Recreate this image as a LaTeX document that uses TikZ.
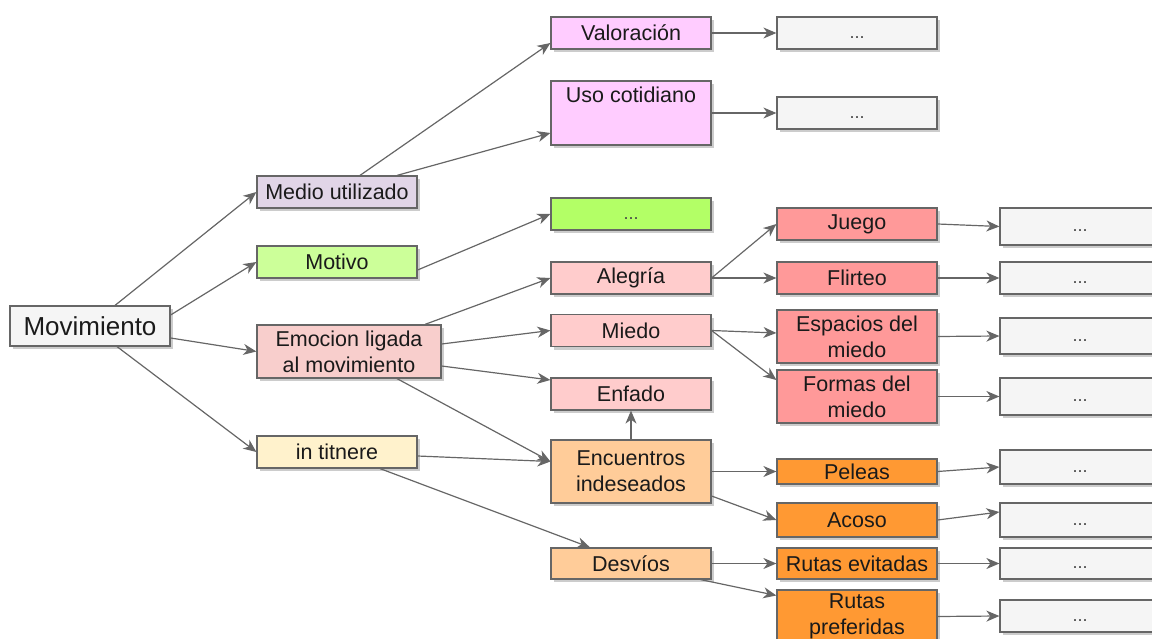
\documentclass[tikz,border=0pt]{standalone}
\usepackage{fontspec}
\setmainfont{Liberation Sans}
\usetikzlibrary{arrows.meta,shadows}
\definecolor{edgec}{HTML}{666666}
\definecolor{bordc}{HTML}{666666}
\definecolor{cgray}{HTML}{F5F5F5}
\definecolor{clilac}{HTML}{E1D5E7}
\definecolor{cgreen}{HTML}{CCFF99}
\definecolor{cgreenb}{HTML}{B3FF66}
\definecolor{cpink}{HTML}{F8CECC}
\definecolor{cyellow}{HTML}{FFF2CC}
\definecolor{cmagenta}{HTML}{FFCCFF}
\definecolor{crose}{HTML}{FFCCCC}
\definecolor{cpeach}{HTML}{FFCC99}
\definecolor{cred}{HTML}{FF9999}
\definecolor{corange}{HTML}{FF9933}
\definecolor{ctext}{HTML}{1A1A1A}
\newcommand{\dotsbox}{\vphantom{Ag}\textcolor{ctext!80}{\fontsize{18}{22}\selectfont...}}
\tikzset{
  box/.style={draw=bordc, line width=1.2pt, rectangle, align=center, inner sep=1pt,
    text=ctext, font=\fontsize{21.5}{26}\selectfont,
    minimum width=160pt, minimum height=32pt,
    drop shadow={shadow xshift=3pt, shadow yshift=-3pt, fill=black, opacity=0.2}},
  arr/.style={draw=edgec, line width=1.2pt, -{Stealth[length=13pt,width=11pt,inset=4pt]}},
}
\begin{document}
\begin{tikzpicture}[x=1pt,y=-1pt]
\useasboundingbox (0,0) rectangle (1152,639);
\clip (0,0) rectangle (1152,639);
% level 0
\node[box, fill=cgray, minimum height=40pt, font=\fontsize{26}{30}\selectfont] (mov) at (90,326) {Movimiento};
% level 1
\node[box, fill=clilac] (medio) at (337,192) {Medio utilizado};
\node[box, fill=cgreen] (motivo) at (337,262) {Motivo};
\node[box, fill=cpink, minimum width=184pt, minimum height=53pt] (emo) at (349,351.5) {Emocion ligada\\al movimiento};
\node[box, fill=cyellow] (tit) at (337,452) {in titnere};
% level 2
\node[box, fill=cmagenta] (val) at (631,33) {Valoración};
\node[box, fill=cmagenta, minimum height=64pt, label={[anchor=north, inner sep=0pt, text=ctext, font=\fontsize{21.5}{26}\selectfont, yshift=-6pt]north:Uso cotidiano}] (uso) at (631,113) {};
\node[box, fill=cgreenb] (g3) at (631,214) {\dotsbox};
\node[box, fill=crose] (ale) at (631,278) {Alegría};
\node[box, fill=crose] (mie) at (631,330.5) {Miedo};
\node[box, fill=crose] (enf) at (631,394) {Enfado};
\node[box, fill=cpeach, minimum height=63pt] (enc) at (631,471.5) {Encuentros\\indeseados};
\node[box, fill=cpeach, minimum height=31pt] (des) at (631,563.5) {Desvíos};
% level 3
\node[box, fill=cgray] (d1) at (857,33) {\dotsbox};
\node[box, fill=cgray] (d2) at (857,113) {\dotsbox};
\node[box, fill=cred] (juego) at (857,224) {Juego};
\node[box, fill=cred] (flirt) at (857,278) {Flirteo};
\node[box, fill=cred, minimum height=53pt] (esp) at (857,336.5) {Espacios del\\miedo};
\node[box, fill=cred, minimum height=53pt] (form) at (857,396.5) {Formas del\\miedo};
\node[box, fill=corange, minimum height=25pt] (pel) at (857,471.5) {Peleas};
\node[box, fill=corange, minimum height=34pt] (aco) at (857,520) {Acoso};
\node[box, fill=corange, minimum height=31pt] (rev) at (857,563.5) {Rutas evitadas};
\node[box, fill=corange, minimum height=53pt] (rpr) at (857,616.5) {Rutas\\preferidas};
% level 4
\node[box, fill=cgray, minimum height=37pt] (e1) at (1080,226.5) {\dotsbox};
\node[box, fill=cgray] (e2) at (1080,278) {\dotsbox};
\node[box, fill=cgray, minimum height=36pt] (e3) at (1080,336) {\dotsbox};
\node[box, fill=cgray, minimum height=37pt] (e4) at (1080,396.5) {\dotsbox};
\node[box, fill=cgray, minimum height=34pt] (e5) at (1080,467) {\dotsbox};
\node[box, fill=cgray, minimum height=34pt] (e6) at (1080,520) {\dotsbox};
\node[box, fill=cgray, minimum height=31pt] (e7) at (1080,563.5) {\dotsbox};
\node[box, fill=cgray] (e8) at (1080,616) {\dotsbox};
% edges level 0 -> 1
\draw[arr] ([xshift=25pt]mov.north) -- (medio.west);
\draw[arr] ([yshift=11pt]mov.east) -- (motivo.west);
\draw[arr] ([yshift=-12pt]mov.east) -- (emo.west);
\draw[arr] ([xshift=27pt]mov.south) -- (tit.west);
% level 1 -> 2
\draw[arr] ([xshift=23pt]medio.north) -- ([yshift=-10pt]val.west);
\draw[arr] ([xshift=60pt]medio.north) -- ([yshift=-20pt]uso.west);
\draw[arr] ([yshift=-8pt]motivo.east) -- (g3.west);
\draw[arr] ([xshift=76pt]emo.north) -- (ale.west);
\draw[arr] ([yshift=7.5pt]emo.east) -- (mie.west);
\draw[arr] ([yshift=-14.5pt]emo.east) -- ([yshift=14pt]enf.west);
\draw[arr] ([xshift=48pt]emo.south) -- ([yshift=10pt]enc.west);
\draw[arr] ([yshift=-4pt]tit.east) -- ([yshift=10pt]enc.west);
\draw[arr] ([xshift=43pt]tit.south) -- ([xshift=-41pt]des.north);
% level 2 -> 3
\draw[arr] (val.east) -- (d1.west);
\draw[arr] (uso.east) -- (d2.west);
\draw[arr] (ale.east) -- (juego.west);
\draw[arr] (ale.east) -- (flirt.west);
\draw[arr] (mie.east) -- ([yshift=3.5pt]esp.west);
\draw[arr] (mie.east) -- ([yshift=16.5pt]form.west);
\draw[arr] (enc.north) -- (enf.south);
\draw[arr] (enc.east) -- (pel.west);
\draw[arr] ([yshift=-24.5pt]enc.east) -- (aco.west);
\draw[arr] (des.east) -- (rev.west);
\draw[arr] ([xshift=-11pt]des.south east) -- ([yshift=21pt]rpr.west);
% level 3 -> 4
\draw[arr] (juego.east) -- (e1.west);
\draw[arr] (flirt.east) -- (e2.west);
\draw[arr] (esp.east) -- (e3.west);
\draw[arr] (form.east) -- (e4.west);
\draw[arr] (pel.east) -- (e5.west);
\draw[arr] (aco.east) -- ([yshift=8pt]e6.west);
\draw[arr] (rev.east) -- (e7.west);
\draw[arr] (rpr.east) -- (e8.west);
\end{tikzpicture}
\end{document}
